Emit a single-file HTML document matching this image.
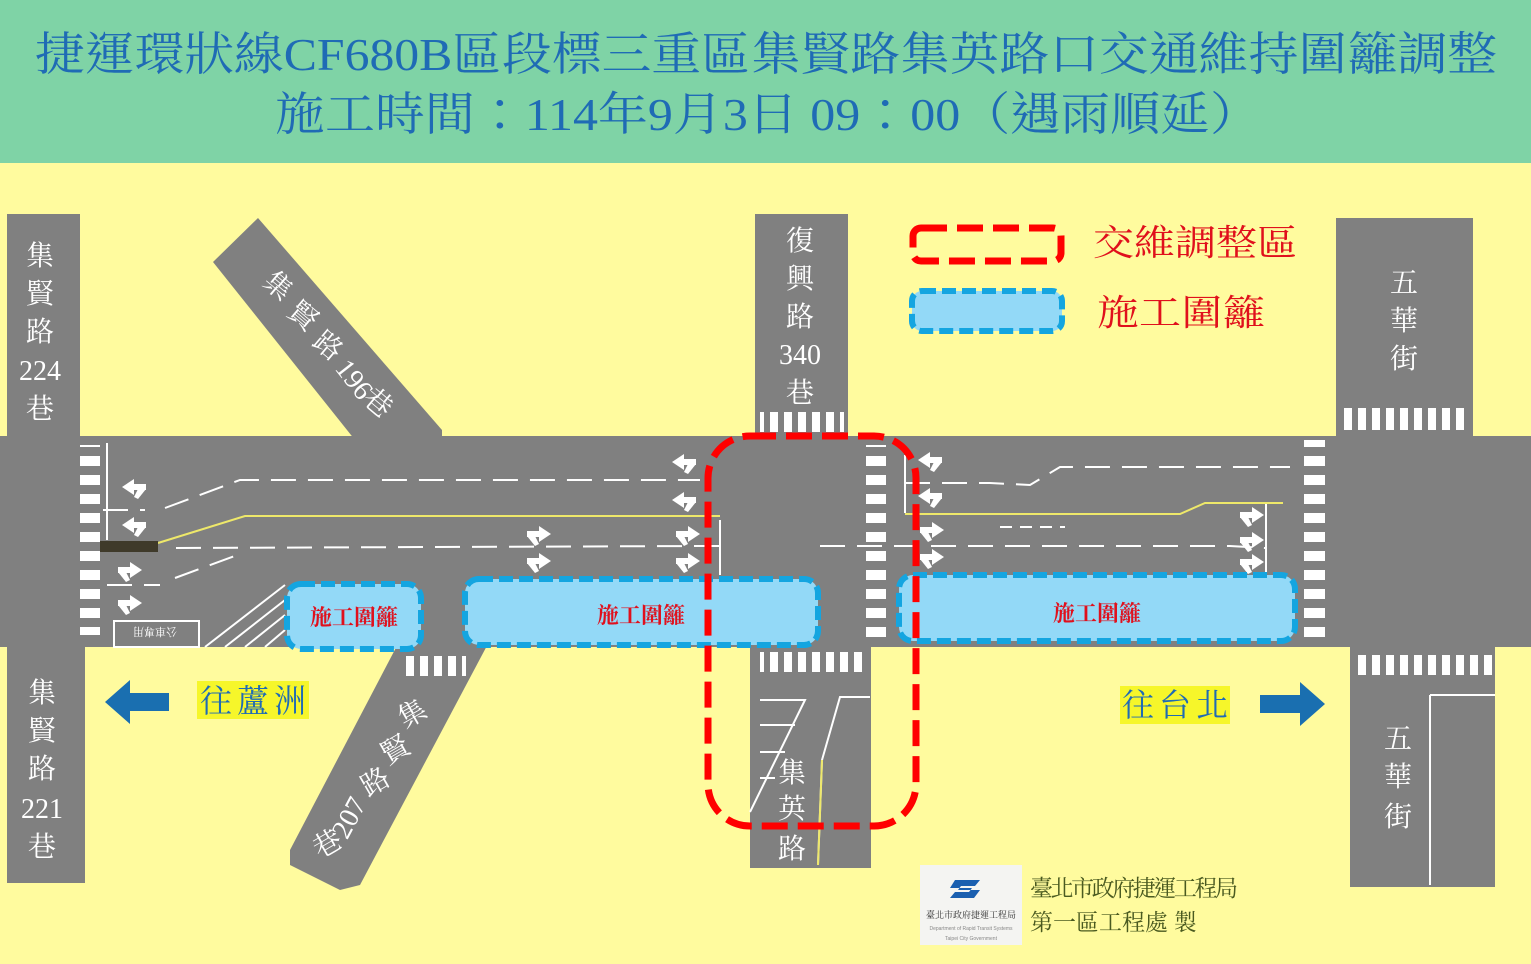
<!DOCTYPE html>
<html><head><meta charset="utf-8"><style>
html,body{margin:0;padding:0;width:1531px;height:964px;overflow:hidden;background:#fffb9e}
svg{display:block}
.t{font-family:"Liberation Serif","Noto Serif CJK TC","Noto Serif CJK SC",serif}
</style></head><body>
<svg width="1531" height="964" viewBox="0 0 1531 964" xmlns="http://www.w3.org/2000/svg">
<defs>
<pattern id="hs" width="20" height="19" patternUnits="userSpaceOnUse"><rect x="0" y="0" width="20" height="10" fill="#fff"/></pattern>
<pattern id="vs" width="14" height="20" patternUnits="userSpaceOnUse"><rect x="0" y="0" width="8" height="20" fill="#fff"/></pattern>
<g id="al"><polygon points="0,0 12,-8 12,-3 24,-3 24,3 12,3 12,8" fill="#fff"/><polygon points="16,2 24,2 16,12 12,10" fill="#fff"/></g>
<g id="ar"><polygon points="24,0 12,-8 12,-3 0,-3 0,3 12,3 12,8" fill="#fff"/><polygon points="8,2 0,2 8,12 12,10" fill="#fff"/></g>
</defs>
<rect width="1531" height="964" fill="#fffb9e"/>
<rect width="1531" height="163" fill="#7fd3a6"/>
<text class="t" x="35" y="70" textLength="1462" lengthAdjust="spacingAndGlyphs" font-size="46" fill="#1f6bb5">捷運環狀線CF680B區段標三重區集賢路集英路口交通維持圍籬調整</text>
<text class="t" x="275" y="130" textLength="985" lengthAdjust="spacingAndGlyphs" font-size="46" fill="#1f6bb5">施工時間：114年9月3日 09：00（遇雨順延）</text>

<g fill="#808080">
<rect x="0" y="436" width="1531" height="211"/>
<rect x="7" y="214" width="73" height="230"/>
<rect x="7" y="640" width="78" height="243"/>
<polygon points="213,262 258,218 442,430 442,440 355,440"/>
<polygon points="400,640 490,640 360,885 340,890 290,865 290,850"/>
<rect x="755" y="214" width="93" height="230"/>
<rect x="750" y="640" width="121" height="228"/>
<rect x="1336" y="218" width="137" height="226"/>
<rect x="1350" y="640" width="145" height="247"/>
</g>
<rect x="80" y="445" width="20" height="190" fill="url(#hs)"/>
<rect x="866" y="445" width="20" height="200" fill="url(#hs)"/>
<rect x="1304" y="440" width="21" height="205" fill="url(#hs)"/>
<rect x="760" y="412" width="84" height="20" fill="url(#vs)"/>
<rect x="760" y="652" width="104" height="20" fill="url(#vs)"/>
<rect x="404" y="656" width="62" height="20" fill="url(#vs)"/>
<rect x="1341" y="408" width="126" height="22" fill="url(#vs)"/>
<rect x="1356" y="655" width="140" height="20" fill="url(#vs)"/>
<g stroke="#fff" stroke-width="2" fill="none">
<line x1="107" y1="443" x2="107" y2="540"/>
<path d="M103 510 H145 M165 508 L240 480 H700" stroke-dasharray="25 12"/>
<path d="M176 548 L700 546 L720 546" stroke-dasharray="25 12"/>
<path d="M107 585 H160 M175 578 L240 554" stroke-dasharray="25 12"/>
<line x1="720" y1="520" x2="720" y2="575"/>
<line x1="905" y1="455" x2="905" y2="513"/>
<path d="M905 483 H990 L1030 485 L1060 467 H1290" stroke-dasharray="25 12"/>
<path d="M820 546 H1230 L1265 548" stroke-dasharray="25 12"/>
<path d="M1000 527 H1065" stroke-dasharray="12 8"/>
<line x1="1266" y1="503" x2="1266" y2="575"/>
<rect x="114" y="621" width="85" height="26"/>
<path d="M205 647 L285 585 M225 647 L285 600 M245 647 L285 615 M265 647 L285 630"/>
<path d="M760 700 L805 700 L750 812 M760 725 L795 725 M760 752 L785 752 M760 778 L775 778"/>
<path d="M870 697 H840 L822 760 L818 865" />
</g>
<text x="155" y="640" font-size="11" fill="#fff" class="t" transform="rotate(180 155 634)" text-anchor="middle">公車專用</text>
<g stroke="#eee86a" stroke-width="2" fill="none">
<path d="M158 543 L245 516 H720"/>
<path d="M905 514 H1180 L1205 503 H1283"/>
<path d="M822 760 L818 865"/>
</g>
<path d="M1430 695 V885 M1430 695 H1495" stroke="#fff" stroke-width="2" fill="none"/>
<rect x="100" y="541" width="58" height="11" fill="#3f3a2a"/>
<use href="#al" x="122" y="487"/><use href="#al" x="122" y="525"/><use href="#ar" x="118" y="570"/><use href="#ar" x="118" y="603"/>
<use href="#al" x="672" y="462"/><use href="#al" x="672" y="500"/><use href="#ar" x="676" y="534"/><use href="#ar" x="676" y="561"/>
<use href="#ar" x="527" y="534"/><use href="#ar" x="527" y="561"/>
<use href="#al" x="918" y="460"/><use href="#al" x="918" y="496"/><use href="#ar" x="920" y="530"/><use href="#ar" x="920" y="557"/>
<use href="#ar" x="1240" y="515"/><use href="#ar" x="1240" y="540"/><use href="#ar" x="1240" y="562"/>
<g class="t" font-size="28" fill="#fff" text-anchor="middle">
<text x="40" y="265">集</text><text x="40" y="303">賢</text><text x="40" y="341">路</text><text x="40" y="380">224</text><text x="40" y="418">巷</text>
<text x="42" y="702">集</text><text x="42" y="740">賢</text><text x="42" y="778">路</text><text x="42" y="818">221</text><text x="42" y="856">巷</text>
<text x="800" y="250">復</text><text x="800" y="288">興</text><text x="800" y="326">路</text><text x="800" y="364">340</text><text x="800" y="402">巷</text>
<text x="792" y="782">集</text><text x="792" y="818">英</text><text x="792" y="858">路</text>
<text x="1404" y="292">五</text><text x="1404" y="330">華</text><text x="1404" y="368">街</text>
<text x="1398" y="748">五</text><text x="1398" y="786">華</text><text x="1398" y="826">街</text>
<text transform="translate(272,293) rotate(40)">集</text>
<text transform="translate(297,323) rotate(40)">賢</text>
<text transform="translate(322,353) rotate(40)">路</text>
<text transform="translate(347,385) rotate(52)">196</text>
<text transform="translate(372,410) rotate(40)">巷</text>
<text transform="translate(417,722) rotate(-30)">集</text>
<text transform="translate(400,758) rotate(-30)">賢</text>
<text transform="translate(380,790) rotate(-30)">路</text>
<text transform="translate(357,822) rotate(-62)">207</text>
<text transform="translate(332,852) rotate(-30)">巷</text>
</g>
<g fill="#93d9f7" stroke="#14a5e0" stroke-width="6" stroke-dasharray="14 6">
<rect x="287" y="584" width="134" height="65" rx="14"/>
<rect x="465" y="579" width="353" height="66" rx="14"/>
<rect x="899" y="575" width="396" height="66" rx="14"/>
<rect x="912" y="291" width="150" height="40" rx="10"/>
</g>
<g class="t" font-size="22" fill="#e0101c" text-anchor="middle" font-weight="bold">
<text x="354" y="625">施工圍籬</text><text x="641" y="623">施工圍籬</text><text x="1097" y="621">施工圍籬</text>
</g>
<rect x="708" y="436" width="208" height="390" rx="42" fill="none" stroke="#f00" stroke-width="7" stroke-dasharray="26 10"/>
<rect x="913" y="228" width="148" height="33" rx="8" fill="none" stroke="#f00" stroke-width="7" stroke-dasharray="26 10"/>
<g class="t" font-size="36" fill="#e0101c">
<text x="1093" y="255" textLength="205" lengthAdjust="spacingAndGlyphs">交維調整區</text><text x="1097" y="325" textLength="168" lengthAdjust="spacingAndGlyphs">施工圍籬</text>
</g>
<rect x="197" y="681" width="112" height="38" fill="#f6f62a"/>
<text class="t" x="200" y="712" font-size="32" fill="#1f6bb5" textLength="106">往蘆洲</text>
<polygon points="105,702 130,680 130,693 169,693 169,711 130,711 130,724" fill="#1a6fb0"/>
<rect x="1120" y="686" width="110" height="38" fill="#f6f62a"/>
<text class="t" x="1122" y="716" font-size="32" fill="#1f6bb5" textLength="106">往台北</text>
<polygon points="1325,704 1300,682 1300,695 1260,695 1260,713 1300,713 1300,726" fill="#1a6fb0"/>
<rect x="920" y="865" width="102" height="80" fill="#f4f4f2"/>
<path d="M955 880 h25 l-5 6 h-14 l-3 4 h22 l-6 8 h-24 l5 -6 h14 l3 -4 h-22z" fill="#1a5fb0"/>
<text x="971" y="918" font-size="9" text-anchor="middle" class="t" fill="#333">臺北市政府捷運工程局</text>
<text x="971" y="930" font-size="5" text-anchor="middle" fill="#888" font-family="Liberation Sans">Department of Rapid Transit Systems</text>
<text x="971" y="940" font-size="5" text-anchor="middle" fill="#888" font-family="Liberation Sans">Taipei City Government</text>
<g class="t" font-size="23" fill="#4a5a20"><text x="1030" y="896" textLength="208">臺北市政府捷運工程局</text><text x="1030" y="930">第一區工程處 製</text></g>
</svg>
</body></html>
